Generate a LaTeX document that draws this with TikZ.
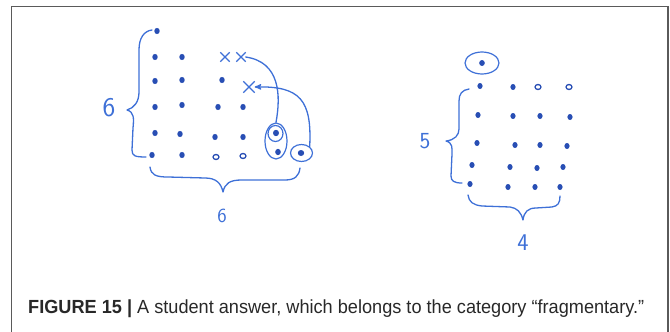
\documentclass[tikz,border=0pt]{standalone}
\usepackage{fontspec}
\setmainfont{Liberation Sans}
\usepackage{tikz}
\usetikzlibrary{shapes,arrows,positioning}

\definecolor{ink}{RGB}{62,112,215}
\definecolor{inkdark}{RGB}{40,78,180}
\definecolor{framegray}{RGB}{90,90,90}
\definecolor{captiongray}{RGB}{40,40,40}

\begin{document}
\begin{tikzpicture}[x=1pt, y=-1pt,
    pen/.style={draw=ink, line width=1.3pt, line cap=round, line join=round},
    ringdot/.style={draw=inkdark, line width=1.3pt},
    loop/.style={ellipse, draw=ink, line width=1.2pt, inner sep=0pt},
    crossmark/.style={cross out, draw=ink, line width=1.3pt, minimum size=#1, inner sep=0pt},
    hand/.style={text=ink, font=\sffamily\fontsize{#1}{#1}\selectfont, inner sep=0pt}]

    \useasboundingbox (0,0) rectangle (670,332);
    \draw[framegray, line width=1.2pt] (11.5,332) -- (11.5,6.5) -- (668,6.5) -- (668,332);

    % left answer: 6 by 6
    \foreach \x/\y in {157/31, 155/57, 182/57, 155/81, 182/80, 222/80,
                       155/107, 182/105, 218/107, 243/107,
                       155/133, 180/134, 215/137, 243/137, 152/155, 182/155}
        \fill[inkdark] (\x,\y) ellipse (2.7 and 3.1);
    \foreach \x/\y in {216/157, 243/156}
        \draw[ringdot] (\x,\y) ellipse (3 and 2.5);

    \node[crossmark=8pt] (xa) at (225,57) {};
    \node[crossmark=8pt] (xb) at (241,57) {};
    \node[crossmark=10pt] (xc) at (249,87) {};

    \fill[inkdark] (276,133) ellipse (3 and 3.2);
    \fill[inkdark] (278,152) ellipse (2.8 and 3.2);
    \fill[inkdark] (301,153) ellipse (3.2 and 3);
    \node[loop, minimum width=15pt, minimum height=16pt] (inner) at (275.5,133.5) {};
    \node[loop, minimum width=22pt, minimum height=36pt] (pair) at (276,141) {};
    \node[loop, minimum width=22pt, minimum height=17pt] (single) at (301.5,153) {};

    \draw[pen] (pair.north) .. controls (281,95) and (280,62) .. (xb.east);
    \draw[pen, ->, >=stealth'] (single.north east) .. controls (312,100) and (300,86) .. (xc.east);

    \draw[pen] (152,30) .. controls (144,31) and (139,38) .. (139,50) -- (139,92)
        .. controls (139,102) and (134,108) .. (127,110)
        .. controls (134,112) and (134,118) .. (133,128) -- (132,150)
        .. controls (132,156) and (135,157) .. (146,157);
    \node[hand=27] (rowsA) at (109,108) {6};

    \draw[pen] (150,167) .. controls (151,175) and (156,177) .. (168,177) -- (205,178)
        .. controls (216,178) and (221,183) .. (223,192)
        .. controls (225,183) and (230,180) .. (242,180) -- (285,180)
        .. controls (295,180) and (299,176) .. (300,168);
    \node[hand=20] (colsA) at (222,216) {6};

    % right answer: 5 by 4 and one more
    \fill[inkdark] (482,63) ellipse (2.8 and 3);
    \node[loop, minimum width=34pt, minimum height=22pt] (extra) at (482,63) {};

    \foreach \x/\y in {480/86, 513/87, 478/115, 513/116, 540/116, 570/117,
                       477/143, 515/145, 540/145, 567/146,
                       472/165, 510/167, 537/168, 563/167,
                       470/184, 508/187, 535/187, 560/187}
        \fill[inkdark] (\x,\y) ellipse (2.6 and 3);
    \foreach \x/\y in {538/87, 569/87}
        \draw[ringdot] (\x,\y) ellipse (3 and 2.5);

    \draw[pen] (469,89) .. controls (462,90) and (459,94) .. (459,101) -- (459,129)
        .. controls (459,135) and (455,140) .. (446,141)
        .. controls (453,143) and (452,148) .. (452,154) -- (451,176)
        .. controls (451,181) and (454,183) .. (462,183);
    \node[hand=23] (rowsB) at (425,141) {5};

    \draw[pen] (468,195) .. controls (469,202) and (473,205) .. (482,206) -- (510,207)
        .. controls (517,208) and (521,212) .. (523,220)
        .. controls (524,212) and (528,208) .. (536,208) -- (552,207)
        .. controls (558,206) and (560,203) .. (560,196);
    \node[hand=24] (colsB) at (523,243) {4};

    \node[anchor=base west, text=captiongray, font=\fontsize{19}{19}\selectfont, inner sep=0pt] (caption) at (28,313)
        {\resizebox{616pt}{\height}{\textbf{FIGURE 15 |} A student answer, which belongs to the category “fragmentary.”}};
\end{tikzpicture}
\end{document}
